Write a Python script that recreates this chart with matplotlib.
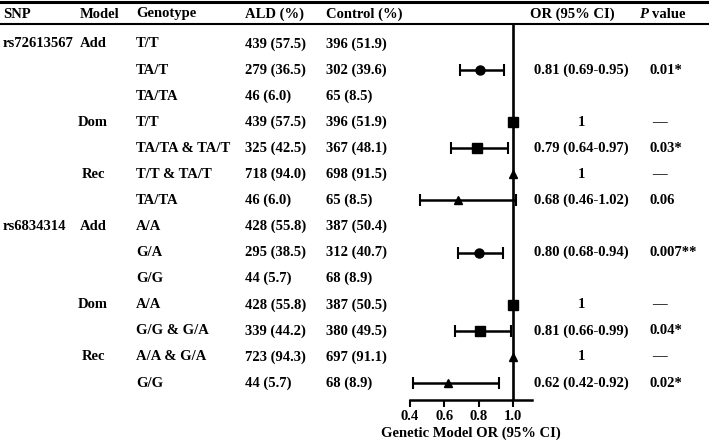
import matplotlib
matplotlib.use("Agg")
import matplotlib.pyplot as plt
import matplotlib.transforms as mtransforms
import numpy as np

plt.rcParams['font.family'] = ['Liberation Serif', 'DejaVu Serif']
plt.rcParams['font.weight'] = 'bold'

# table data, one entry per row
snp = ["rs72613567", "", "", "", "", "", "", "rs6834314", "", "", "", "", "", ""]
model = ["Add", "", "", "Dom", "", "Rec", "", "Add", "", "", "Dom", "", "Rec", ""]
genotype = ["T/T", "TA/T", "TA/TA", "T/T", "TA/TA & TA/T", "T/T & TA/T", "TA/TA",
            "A/A", "G/A", "G/G", "A/A", "G/G & G/A", "A/A & G/A", "G/G"]
ald = ["439 (57.5)", "279 (36.5)", "46 (6.0)", "439 (57.5)", "325 (42.5)", "718 (94.0)", "46 (6.0)",
       "428 (55.8)", "295 (38.5)", "44 (5.7)", "428 (55.8)", "339 (44.2)", "723 (94.3)", "44 (5.7)"]
control = ["396 (51.9)", "302 (39.6)", "65 (8.5)", "396 (51.9)", "367 (48.1)", "698 (91.5)", "65 (8.5)",
           "387 (50.4)", "312 (40.7)", "68 (8.9)", "387 (50.5)", "380 (49.5)", "697 (91.1)", "68 (8.9)"]
or_txt = ["", "0.81 (0.69-0.95)", "", "1", "0.79 (0.64-0.97)", "1", "0.68 (0.46-1.02)",
          "", "0.80 (0.68-0.94)", "", "1", "0.81 (0.66-0.99)", "1", "0.62 (0.42-0.92)"]
p_txt = ["", "0.01*", "", "\u2014", "0.03*", "\u2014", "0.06",
         "", "0.007**", "", "\u2014", "0.04*", "\u2014", "0.02*"]

# forest values (nan = no marker)
or_val = [np.nan, 0.81, np.nan, 1, 0.79, 1, 0.68, np.nan, 0.80, np.nan, 1, 0.81, 1, 0.62]
ci_lo = [np.nan, 0.69, np.nan, np.nan, 0.64, np.nan, 0.46, np.nan, 0.68, np.nan, np.nan, 0.66, np.nan, 0.42]
ci_hi = [np.nan, 0.95, np.nan, np.nan, 0.97, np.nan, 1.02, np.nan, 0.94, np.nan, np.nan, 0.99, np.nan, 0.92]
markers = ["", "o", "", "s", "s", "^", "^", "", "o", "", "s", "s", "^", "^"]

W, H = 709, 442
fig = plt.figure(figsize=(W / 100, H / 100), dpi=100)

# forest axes: x from 410px to 532px, y from 24px to 400px
ax = fig.add_axes([410 / W, 1 - 400 / H, 122 / W, 376 / H])
n = len(genotype)
rows = np.arange(n)
ax.set_xlim(0.4, 0.4 + 122 / 171.7)
ax.set_ylim(13 + 17 / 26.08, -20 / 26.08)

ax.axvline(1.0, color='black', lw=1.9, zorder=1)
for i in rows:
    if markers[i] == "":
        continue
    if not np.isnan(ci_lo[i]):
        ax.errorbar(or_val[i], i, xerr=[[or_val[i] - ci_lo[i]], [ci_hi[i] - or_val[i]]],
                    fmt='none', ecolor='black', elinewidth=1.8, capsize=4, capthick=1.5, zorder=2)
    ms = 6.5 if markers[i] != "^" else 6
    ax.plot(or_val[i], i, marker=markers[i], color='black', ms=ms, zorder=3)

for s in ['top', 'right', 'left']:
    ax.spines[s].set_visible(False)
ax.spines['bottom'].set_linewidth(1.8)
ax.set_yticks([])
ax.set_xticks([0.4, 0.6, 0.8, 1.0])
ax.set_xticklabels(["0.4", "0.6", "0.8", "1.0"])
ax.tick_params(axis='x', direction='out', length=5, width=1.5, labelsize=10.5, pad=2)
ax.set_xlabel("Genetic Model OR (95% CI)", fontsize=10.5, fontweight='bold', labelpad=3)
ax.patch.set_visible(False)

# table text
tr = mtransforms.blended_transform_factory(fig.transFigure, ax.transData)
fs = 10.5
for i in rows:
    ax.text(3 / W, i, snp[i], transform=tr, fontsize=fs, va='center', ha='left')
    ax.text(93 / W, i, model[i], transform=tr, fontsize=fs, va='center', ha='center')
    ax.text(136 / W, i, genotype[i], transform=tr, fontsize=fs, va='center', ha='left')
    ax.text(245 / W, i, ald[i], transform=tr, fontsize=fs, va='center', ha='left')
    ax.text(326 / W, i, control[i], transform=tr, fontsize=fs, va='center', ha='left')
    ax.text(581 / W, i, or_txt[i], transform=tr, fontsize=fs, va='center', ha='center')
    if p_txt[i] == "\u2014":
        ax.text(659 / W, i, p_txt[i], transform=tr, fontsize=fs, va='center', ha='center')
    else:
        ax.text(649 / W, i, p_txt[i], transform=tr, fontsize=fs, va='center', ha='left')

# header
hy = 1 - 14 / H
fig.text(3 / W, hy, "SNP", fontsize=fs, va='center', ha='left')
fig.text(80 / W, hy, "Model", fontsize=fs, va='center', ha='left')
fig.text(136 / W, hy, "Genotype", fontsize=fs, va='center', ha='left')
fig.text(245 / W, hy, "ALD (%)", fontsize=fs, va='center', ha='left')
fig.text(326 / W, hy, "Control (%)", fontsize=fs, va='center', ha='left')
fig.text(572 / W, hy, "OR (95% CI)", fontsize=fs, va='center', ha='center')
fig.text(639 / W, hy, "P", fontsize=fs, va='center', ha='left', fontstyle='italic')
fig.text(652 / W, hy, "value", fontsize=fs, va='center', ha='left')

fig.add_artist(plt.Line2D([0, 1], [1 - 1.5 / H, 1 - 1.5 / H], color='black', lw=2.2, transform=fig.transFigure))
fig.add_artist(plt.Line2D([0, 1], [1 - 24 / H, 1 - 24 / H], color='black', lw=1.5, transform=fig.transFigure))

fig.savefig("out.png", dpi=100)
